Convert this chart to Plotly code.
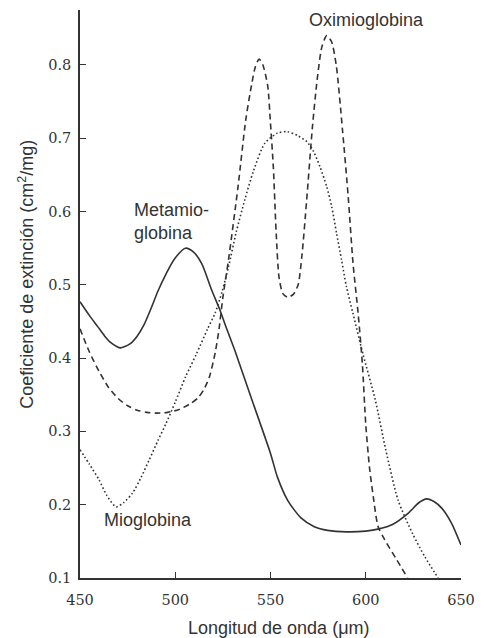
import plotly.graph_objects as go

# Metamioglobina (solid)
met_x = [450, 455, 459.3, 463, 466.2, 471, 476, 480, 483.5, 487, 491, 495, 499.5, 505.3, 509.5,
         513.9, 519.1, 523.4, 527, 531.2, 540, 550, 553.6, 559, 566, 573, 580, 590, 600, 607, 614,
         622.5, 628, 632, 636, 640, 645, 650]
met_y = [0.477, 0.458, 0.443, 0.43, 0.421, 0.414, 0.419, 0.43, 0.445, 0.466, 0.492, 0.514, 0.535,
         0.55, 0.545, 0.529, 0.493, 0.466, 0.44, 0.411, 0.345, 0.27, 0.238, 0.206, 0.182, 0.17,
         0.165, 0.163, 0.164, 0.167, 0.173, 0.189, 0.203, 0.208, 0.204, 0.195, 0.175, 0.145]

# Oximioglobina (dashed)
oxi_x = [450, 455, 460, 465, 470, 475, 480, 485, 490, 496, 502, 508, 512, 515, 518, 521, 523, 525,
         528, 533, 537, 540, 542, 544, 546, 548.5, 550, 551.5, 553, 554.5, 556.5, 559, 562, 564.5,
         566.5, 569, 572, 574.5, 577, 579.5, 582, 584.5, 587.8, 590.8, 593.3, 596, 598.2, 600, 602,
         604, 606.5, 610, 616, 622]
oxi_y = [0.44, 0.408, 0.382, 0.36, 0.345, 0.335, 0.329, 0.326, 0.325, 0.326, 0.33, 0.338, 0.346,
         0.357, 0.375, 0.408, 0.44, 0.483, 0.535, 0.635, 0.725, 0.772, 0.797, 0.808, 0.8, 0.772,
         0.72, 0.66, 0.57, 0.51, 0.488, 0.483, 0.487, 0.5, 0.54, 0.616, 0.715, 0.78, 0.825, 0.84,
         0.832, 0.8, 0.711, 0.62, 0.53, 0.461, 0.393, 0.31, 0.25, 0.21, 0.17, 0.152, 0.126, 0.1]

# Mioglobina (dotted)
mio_x = [450, 455, 460, 464, 469, 473, 477.6, 482, 486.3, 491, 495, 500, 505.5, 511, 517, 521,
         524.5, 528, 532, 536.5, 541, 547, 553.6, 558.8, 564, 569.2, 572.6, 576, 579.5, 582.1,
         584.7, 587.3, 589.9, 593.3, 598.6, 605, 610.5, 617, 624.5, 631, 638]
mio_y = [0.275, 0.255, 0.234, 0.213, 0.197, 0.203, 0.216, 0.237, 0.261, 0.288, 0.31, 0.34, 0.375,
         0.405, 0.44, 0.462, 0.49, 0.525, 0.572, 0.616, 0.655, 0.693, 0.707, 0.709, 0.704, 0.695,
         0.682, 0.661, 0.634, 0.607, 0.57, 0.534, 0.497, 0.461, 0.405, 0.343, 0.275, 0.206, 0.161,
         0.129, 0.1]

x_ticks = [450, 500, 550, 600, 650]
y_ticks = [0.1, 0.2, 0.3, 0.4, 0.5, 0.6, 0.7, 0.8]

INK = "#333333"
SANS = "Liberation Sans, Arial, sans-serif"
SERIF = "DejaVu Serif"

SMOOTH = 0.7

fig = go.Figure()
fig.add_trace(go.Scatter(x=met_x, y=met_y, mode="lines", line=dict(color=INK, width=1.6, shape="spline", smoothing=SMOOTH)))
fig.add_trace(go.Scatter(x=oxi_x, y=oxi_y, mode="lines", line=dict(color=INK, width=1.6, dash="6px,4px", shape="spline", smoothing=SMOOTH)))
fig.add_trace(go.Scatter(x=mio_x, y=mio_y, mode="lines", line=dict(color=INK, width=1.6, dash="1.6px,2.4px", shape="spline", smoothing=SMOOTH)))

fig.update_layout(
    width=485, height=638,
    margin=dict(l=80, r=19, t=10, b=60),
    paper_bgcolor="white", plot_bgcolor="white",
    showlegend=False,
    xaxis=dict(range=[450, 650], tickvals=x_ticks, ticktext=[str(v) for v in x_ticks],
               ticks="inside", ticklen=6, tickwidth=1.2, tickcolor=INK,
               showline=True, linecolor=INK, linewidth=1.6, showgrid=False, zeroline=False,
               tickfont=dict(family=SERIF, size=14.5, color=INK), ticklabelstandoff=8),
    yaxis=dict(range=[0.1, 0.875], tickvals=y_ticks, ticktext=["%.1f" % v for v in y_ticks],
               ticks="inside", ticklen=6, tickwidth=1.2, tickcolor=INK,
               showline=True, linecolor=INK, linewidth=1.6, showgrid=False, zeroline=False,
               tickfont=dict(family=SERIF, size=14.5, color=INK), ticklabelstandoff=4),
    annotations=[
        dict(x=600.3, y=0.861, xref="x", yref="y", text="Oximioglobina", showarrow=False,
             xanchor="center", yanchor="middle", font=dict(family=SANS, size=18, color=INK)),
        dict(x=477.5, y=0.587, xref="x", yref="y", text="Metamio-<br>globina", showarrow=False,
             xanchor="left", yanchor="middle", align="left", font=dict(family=SANS, size=18, color=INK)),
        dict(x=461.4, y=0.179, xref="x", yref="y", text="Mioglobina", showarrow=False,
             xanchor="left", yanchor="middle", font=dict(family=SANS, size=18, color=INK)),
        dict(x=0.523, y=-0.088, xref="paper", yref="paper", text="Longitud de onda (μm)", showarrow=False,
             xanchor="center", yanchor="middle", font=dict(family=SANS, size=18, color=INK)),
        dict(x=-0.1425, y=0.535, xref="paper", yref="paper", text="Coeficiente de extinción (cm<sup>2</sup>/mg)",
             showarrow=False, textangle=-90, xanchor="center", yanchor="middle",
             font=dict(family=SANS, size=18, color=INK)),
    ],
)

fig.write_html("out.html")
